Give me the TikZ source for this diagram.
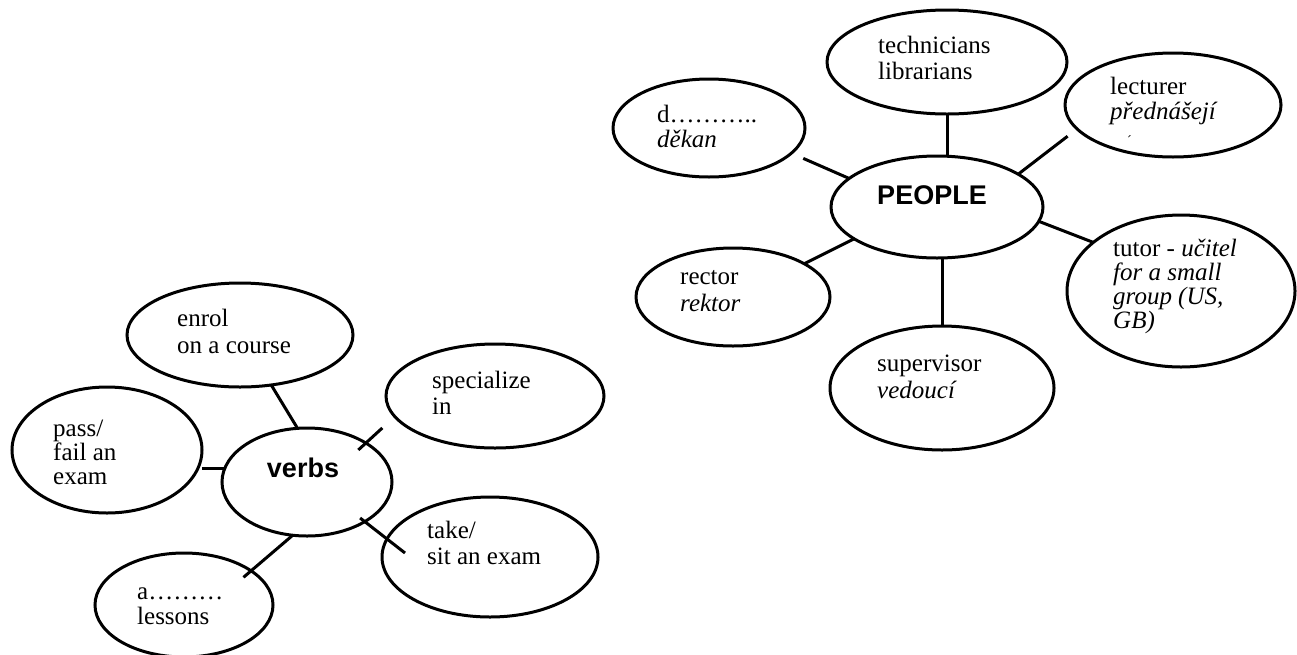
\documentclass[tikz,border=0pt]{standalone}
\usepackage{fontspec}
\setmainfont{Liberation Serif}
\newfontfamily\headfont{Liberation Sans}
\usetikzlibrary{shapes.geometric,calc}
\newcommand\bub[1]{\begin{tabular}[t]{@{}l@{}}#1\end{tabular}}
\begin{document}
\begin{tikzpicture}[x=1pt,y=-1pt,
  bubble/.style={draw=black, line width=3pt, ellipse, inner sep=0pt, outer sep=0pt},
  link/.style={line width=3pt},
  txt/.style={anchor=base west, inner sep=0pt, font=\fontsize{25}{26}\selectfont},
  head/.style={inner sep=0pt, font=\headfont\bfseries\fontsize{27}{29}\selectfont}]
\fill[white] (0,0) rectangle (1297,654);
\useasboundingbox (0,0) rectangle (1297,654);

% ---- PEOPLE cluster ----
\node[bubble, minimum width=212pt, minimum height=102pt] (people) at (937,207) {};
\node[bubble, minimum width=240pt, minimum height=104pt] (tech) at (947,62) {};
\node[bubble, minimum width=192pt, minimum height=98pt] (dean) at (709,128) {};
\node[bubble, minimum width=216pt, minimum height=104pt] (lect) at (1173,105) {};
\node[bubble, minimum width=228pt, minimum height=152pt] (tutor) at (1181,291) {};
\node[bubble, minimum width=194pt, minimum height=98pt] (rector) at (733,297) {};
\node[bubble, minimum width=224pt, minimum height=124pt] (sup) at (942,388) {};

\node[head] (peopleT) at (932,195) {PEOPLE};
\node[txt] (techT) at (878,53) {\bub{technicians\\librarians}};
\node[txt, font=\fontsize{25}{25}\selectfont] (deanT) at (657,122) {\bub{d………..\\\textit{děkan}}};
\node[txt, font=\fontsize{25}{25}\selectfont] (lectT) at (1110,94) {\bub{lecturer\\\textit{přednášejí}}};
\node[txt, font=\fontsize{14}{14}\selectfont] (lectM) at (1127,145) {´};
\node[txt, font=\fontsize{25}{22}\selectfont] (tutorT) at (1113,256) {\bub{tutor - \textit{učitel}\\\textit{for a small}\\\textit{group (US,}\\\textit{GB)}}};
\node[txt, font=\fontsize{25}{27}\selectfont] (rectorT) at (680,284) {\bub{rector\\\textit{rektor}}};
\node[txt, font=\fontsize{25}{27}\selectfont] (supT) at (877,371) {\bub{supervisor\\\textit{vedoucí}}};

\draw[link] (tech.south) -- (tech.south |- people.north);
\draw[link] (sup.north) -- (sup.north |- people.south);
\draw[link, shorten >=13pt] (people.162) -- (dean.-17);
\draw[link, shorten >=12pt] (people.22) -- (lect.194);
\draw[link] (people.-8) -- (tutor.151);
\draw[link] (people.-159) -- (rector.25);

% ---- verbs cluster ----
\node[bubble, minimum width=170pt, minimum height=108pt] (verbs) at (307,482) {};
\node[bubble, minimum width=226pt, minimum height=104pt] (enrol) at (240,335) {};
\node[bubble, minimum width=218pt, minimum height=104pt] (spec) at (495,396) {};
\node[bubble, minimum width=190pt, minimum height=126pt] (pass) at (107,450) {};
\node[bubble, minimum width=216pt, minimum height=120pt] (take) at (490,557) {};
\node[bubble, minimum width=178pt, minimum height=104pt] (attend) at (184,605) {};

\node[head] (verbsT) at (303,468) {verbs};
\node[txt, font=\fontsize{25}{27}\selectfont] (enrolT) at (177,326) {\bub{enrol\\on a course}};
\node[txt] (specT) at (432,388) {\bub{specialize\\in}};
\node[txt, font=\fontsize{25}{24}\selectfont] (passT) at (53,436) {\bub{pass/\\fail an\\exam}};
\node[txt] (takeT) at (427,538) {\bub{take/\\sit an exam}};
\node[txt, font=\fontsize{25}{25}\selectfont] (attendT) at (137,599) {\bub{a………\\lessons}};

\draw[link] (enrol.-58) -- (verbs.100);
\draw[link] (verbs.171) -- (verbs.171 -| pass.east);
\draw[link] ($(verbs.40)+(0,11)$) -- ($(verbs.40)+(24,-11)$);
\draw[link] ($(verbs.-35)+(-4,-4)$) -- ($(take.west)+(23,-4)$);
\draw[link, shorten >=-10pt] (verbs.-105) -- (attend.27);
\end{tikzpicture}
\end{document}
